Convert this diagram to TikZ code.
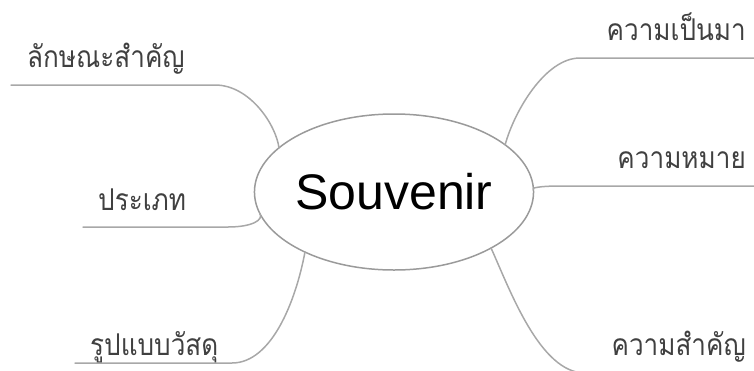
\documentclass[tikz,border=0pt]{standalone}
\usepackage{fontspec}
\setmainfont{Liberation Sans}
\newfontfamily\thaifont[Script=Thai,FakeStretch=0.87]{Loma}
\usetikzlibrary{shapes.geometric}
\definecolor{linegray}{HTML}{A8A8A8}
\definecolor{ellgray}{HTML}{9A9A9A}
\definecolor{thaigray}{HTML}{404040}
\begin{document}
\begin{tikzpicture}[x=1pt,y=-1pt,
  branch/.style={draw=linegray,line width=1.5pt,line cap=round},
  label/.style={font=\thaifont\fontsize{30}{32}\selectfont,text=thaigray,inner sep=0pt},
  lleft/.style={label,anchor=base west},
  lright/.style={label,anchor=base east},
  center/.style={ellipse,draw=ellgray,line width=1.5pt,minimum width=252pt,minimum height=156pt,inner sep=0pt,outer sep=0pt,font=\fontsize{50}{54}\selectfont}]
\useasboundingbox (0,0) rectangle (754,370);
\clip (0,0) rectangle (754,370);
\node[center] (c) at (394,192) {Souvenir};
% labels
\node[lleft] (t1) at (27,67) {ลักษณะสำคัญ};
\node[lleft] (t2) at (98,210) {ประเภท};
\node[lleft] (t3) at (90,355) {รูปแบบวัสดุ};
\node[lright] (t4) at (746,40) {ความเป็นมา};
\node[lright] (t5) at (746,168) {ความหมาย};
\node[lright] (t6) at (746,355) {ความสำคัญ};
% line ends
\coordinate (a1) at (11,85);   \coordinate (b1) at (215,85);
\coordinate (a2) at (83,227);  \coordinate (b2) at (228,227);
\coordinate (a3) at (75,363);  \coordinate (b3) at (232,363);
\coordinate (a4) at (760,58);  \coordinate (b4) at (580,58);
\coordinate (a5) at (760,186); \coordinate (b5) at (560,186);
\coordinate (a6) at (760,373); \coordinate (b6) at (585,373);
% connectors
\draw[branch] (a1) -- (b1) .. controls (250,85) and (276,125) .. (c.159);
\draw[branch] (a2) -- (b2) .. controls (252,227) and (264,220) .. (c.189);
\draw[branch] (a3) -- (b3) .. controls (272,363) and (296,300) .. (c.214);
\draw[branch] (a4) -- (b4) .. controls (545,58) and (514,112) .. (c.23);
\draw[branch] (a5) -- (b5) .. controls (540,186) and (530,188) .. (c.1);
\draw[branch] (a6) -- (b6) .. controls (540,373) and (510,290) .. (c.330);
\end{tikzpicture}
\end{document}
